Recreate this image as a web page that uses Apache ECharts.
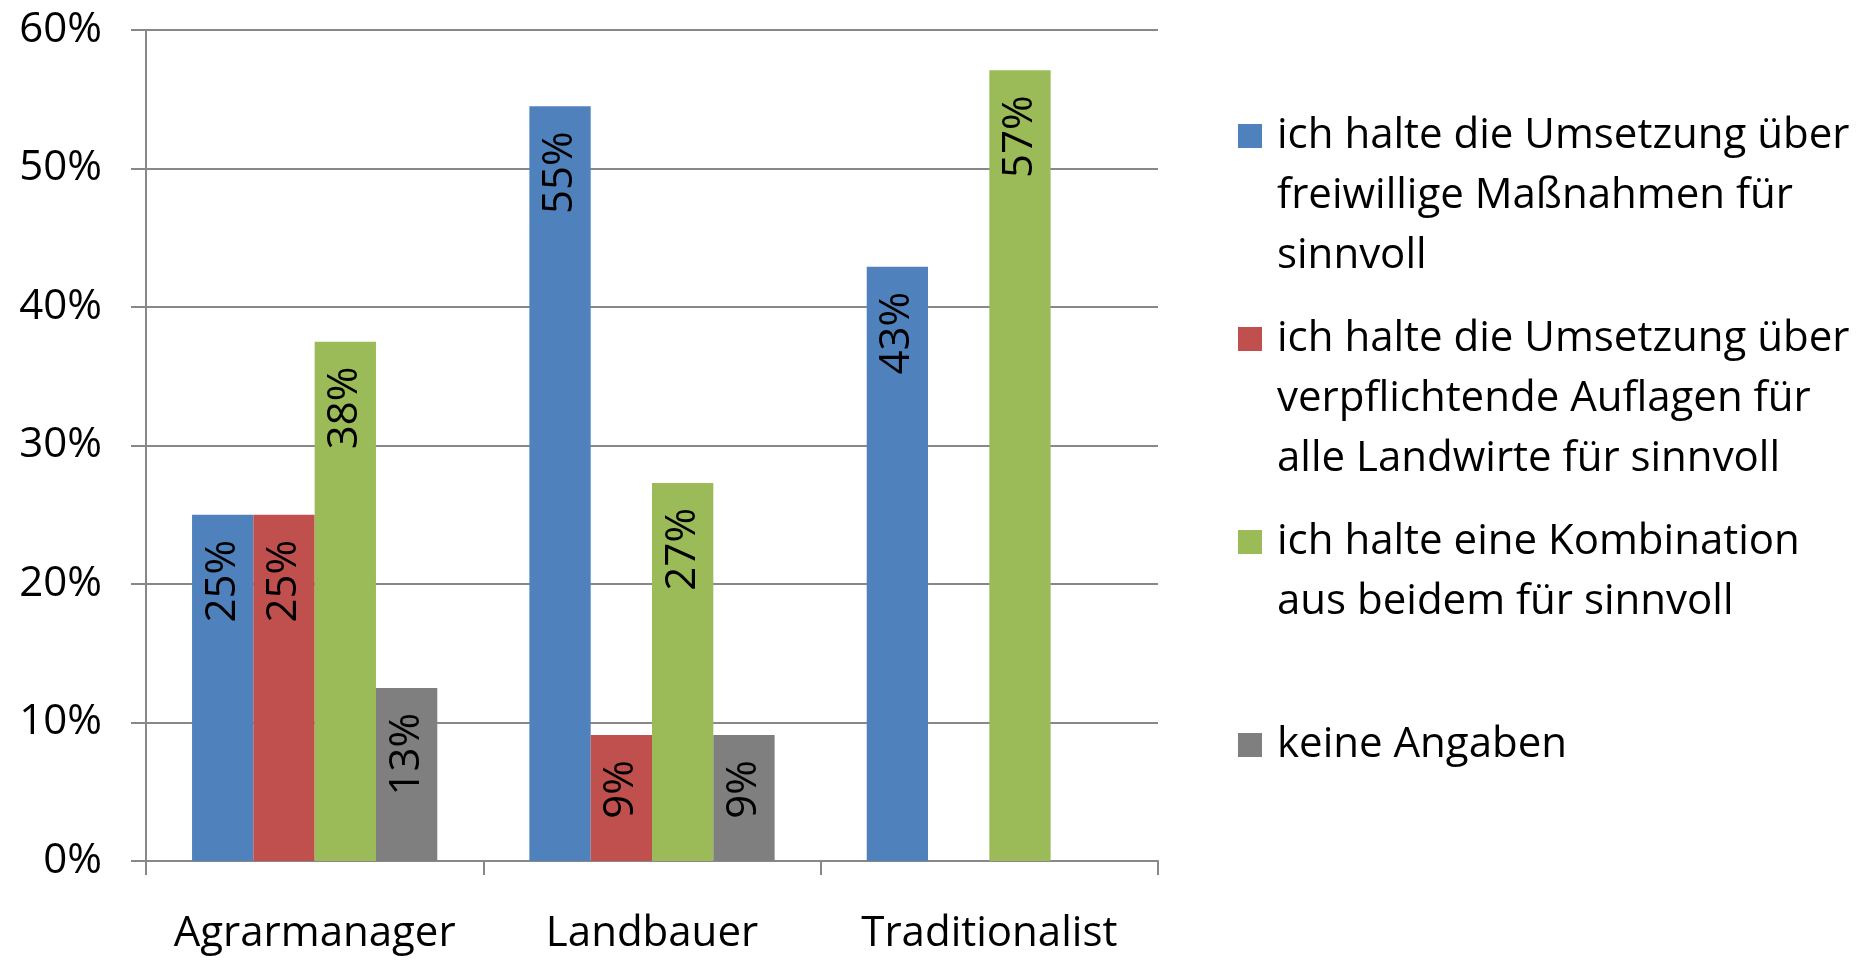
<!DOCTYPE html>
<html>
<head>
<meta charset="utf-8">
<script src="https://cdn.jsdelivr.net/npm/echarts@6/dist/echarts.min.js"></script>
<style>
html,body{margin:0;padding:0;background:#fff;}
#chart{width:1872px;height:962px;}
</style>
</head>
<body>
<div id="chart"></div>
<script>
const categories = ['Agrarmanager', 'Landbauer', 'Traditionalist'];
const seriesNames = [
  'ich halte die Umsetzung über freiwillige Maßnahmen für sinnvoll',
  'ich halte die Umsetzung über verpflichtende Auflagen für alle Landwirte für sinnvoll',
  'ich halte eine Kombination aus beidem für sinnvoll',
  'keine Angaben'
];
const legendLabels = [
  'ich halte die Umsetzung über\nfreiwillige Maßnahmen für\nsinnvoll',
  'ich halte die Umsetzung über\nverpflichtende Auflagen für\nalle Landwirte für sinnvoll',
  'ich halte eine Kombination\naus beidem für sinnvoll\n ',
  'keine Angaben\n \n '
];
const freiwillig = [25, 54.5, 42.9];
const verpflichtend = [25, 9.1, null];
const kombination = [37.5, 27.3, 57.1];
const keineAngaben = [12.5, 9.1, null];
const seriesValues = [freiwillig, verpflichtend, kombination, keineAngaben];
const colors = ['#4F81BD', '#C0504D', '#9BBB59', '#7F7F7F'];
const yTicks = [0, 10, 20, 30, 40, 50, 60];

const FONT = 'Open Sans';
const FS = 42;

const chart = echarts.init(document.getElementById('chart'), null, {renderer: 'canvas'});

const series = seriesNames.map((name, i) => ({
  name: name,
  type: 'bar',
  data: seriesValues[i],
  barGap: '0%',
  barCategoryGap: '27.3%',
  itemStyle: {color: colors[i]},
  label: {
    show: true,
    position: 'insideTop',
    rotate: 90,
    align: 'right',
    verticalAlign: 'middle',
    distance: 25,
    color: '#000',
    fontFamily: FONT,
    fontSize: FS,
    formatter: p => (p.value == null ? '' : Math.round(p.value) + '%')
  }
}));

chart.setOption({
  animation: false,
  backgroundColor: '#fff',
  color: colors,
  textStyle: {fontFamily: FONT},
  grid: {left: 146, top: 30, right: 714, bottom: 101, containLabel: false},
  legend: {
    orient: 'vertical',
    left: 1238,
    top: 106,
    padding: 0,
    itemGap: 23,
    itemWidth: 24,
    itemHeight: 180,
    icon: 'path://M0,18h24v24h-24z M0,0L0,0 M24,180L24,180',
    data: seriesNames,
    formatter: name => legendLabels[seriesNames.indexOf(name)],
    textStyle: {
      fontFamily: FONT,
      fontSize: FS,
      lineHeight: 60,
      color: '#000',
      padding: [0, 0, 0, 10]
    }
  },
  xAxis: {
    type: 'category',
    data: categories,
    axisLine: {show: true, lineStyle: {color: '#888', width: 2}},
    axisTick: {show: true, length: 14, lineStyle: {color: '#888', width: 2}},
    axisLabel: {color: '#000', fontFamily: FONT, fontSize: FS, margin: 52, interval: 0}
  },
  yAxis: {
    type: 'value',
    min: yTicks[0],
    max: yTicks[yTicks.length - 1],
    interval: 10,
    axisLine: {show: true, lineStyle: {color: '#888', width: 2}},
    axisTick: {show: true, length: 15, lineStyle: {color: '#888', width: 2}},
    splitLine: {show: true, lineStyle: {color: '#888', width: 2}},
    axisLabel: {color: '#000', fontFamily: FONT, fontSize: FS, margin: 44, formatter: '{value}%'}
  },
  series: series
});
</script>
</body>
</html>
